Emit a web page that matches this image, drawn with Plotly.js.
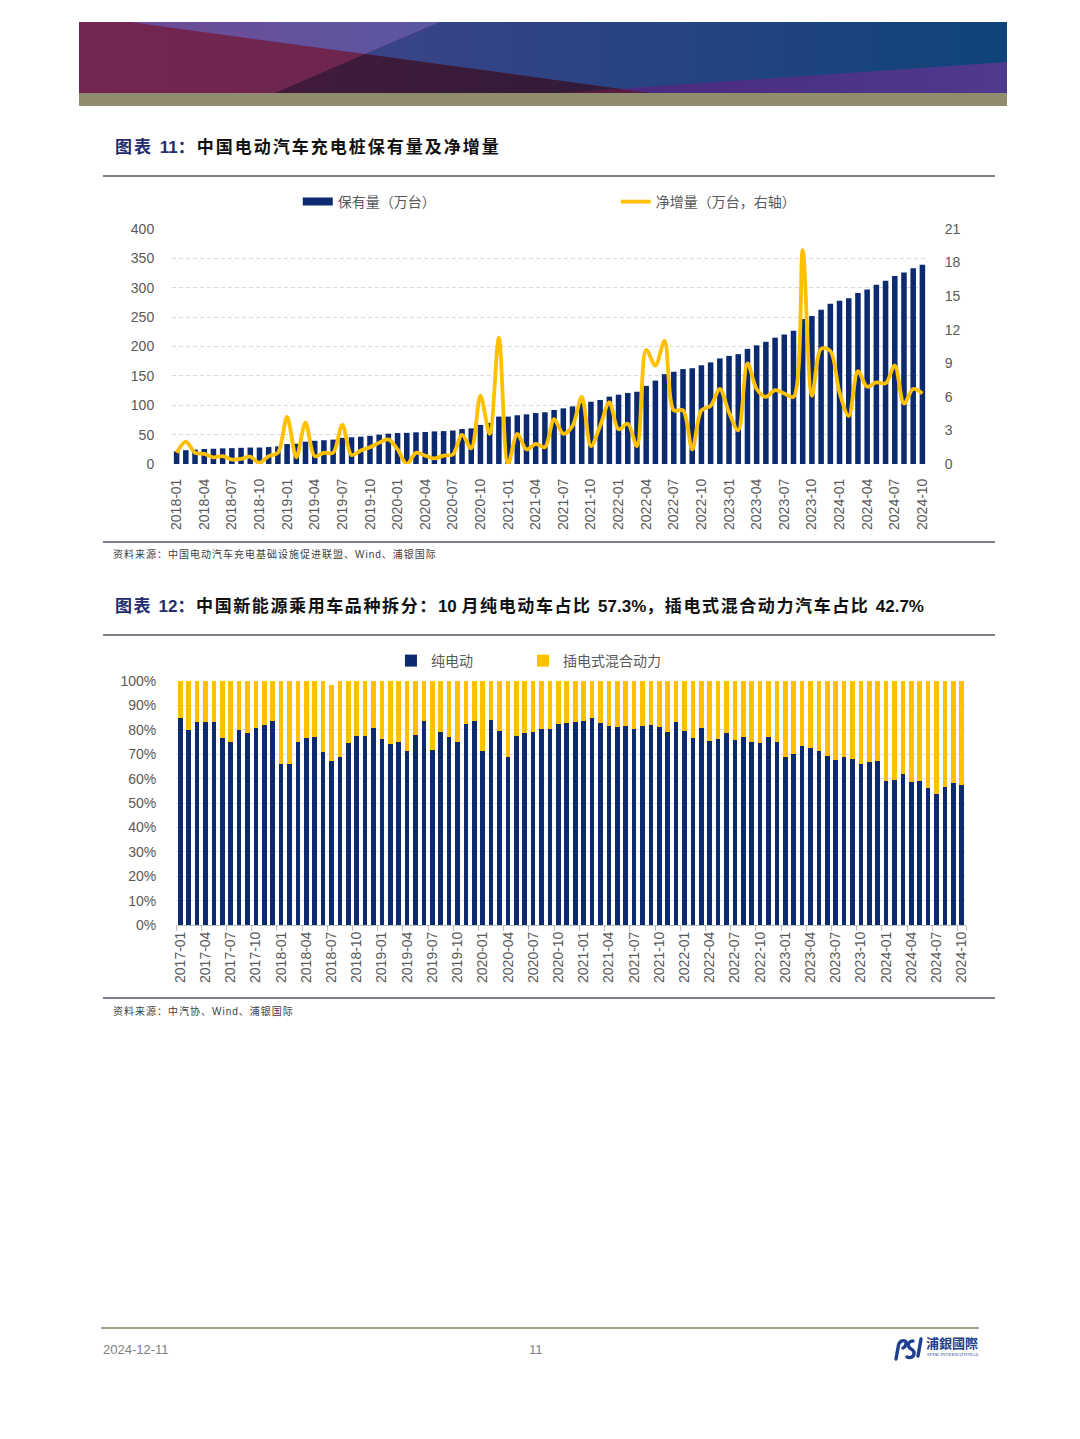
<!DOCTYPE html>
<html><head><meta charset="utf-8">
<script src="https://cdn.plot.ly/plotly-3.0.1.min.js"></script>
<style>
body{margin:0;background:#fff;}
#page{position:relative;width:1080px;height:1439px;overflow:hidden;background:#fff;}
.abs{position:absolute;}
.ttl{font-family:"Liberation Sans","Noto Sans CJK SC",sans-serif;font-weight:700;font-size:17px;color:#111;letter-spacing:1.6px;white-space:nowrap;}
.ttl .n{color:#232c6e;}
.ttl .l{letter-spacing:0;}
.rule{background:#7f7f8c;height:1.5px;}
.src{font-family:"Liberation Sans","Noto Sans CJK SC",sans-serif;font-size:10px;color:#404040;letter-spacing:1px;white-space:nowrap;}
</style></head><body><div id="page">

<svg class="abs" style="left:79px;top:22px" width="928" height="84" viewBox="0 0 928 84">
<defs>
<linearGradient id="gm" x1="0" x2="1" y1="0" y2="0"><stop offset="0" stop-color="#732650"/><stop offset="1" stop-color="#5e2446"/></linearGradient>
<linearGradient id="gp" x1="0" x2="1" y1="0" y2="0"><stop offset="0" stop-color="#6e4a95"/><stop offset="1" stop-color="#5a58a2"/></linearGradient>
<linearGradient id="gb" x1="0" x2="1" y1="0" y2="0"><stop offset="0" stop-color="#3a4488"/><stop offset="1" stop-color="#0f4379"/></linearGradient>
<linearGradient id="gd" x1="0" x2="1" y1="0" y2="0"><stop offset="0" stop-color="#421a3a"/><stop offset="1" stop-color="#2f1c3b"/></linearGradient>
<linearGradient id="gv" x1="0" x2="1" y1="0" y2="0"><stop offset="0" stop-color="#4a2a80"/><stop offset="1" stop-color="#4e3a8e"/></linearGradient>
</defs>
<rect x="0" y="0" width="928" height="71" fill="url(#gm)"/>
<polygon points="51,0 361,0 286,32" fill="url(#gp)"/>
<polygon points="361,0 928,0 928,71 571,71 286,32" fill="url(#gb)"/>
<polygon points="286,32 196,71 571,71" fill="url(#gd)"/>
<polygon points="540,66.8 928,40 928,71 571,71" fill="url(#gv)"/>
<polygon points="479,71 540,66.8 571,71" fill="#581c42"/>
<rect x="0" y="71" width="928" height="13" fill="#8f8d6e"/>
</svg>

<div class="abs ttl" style="left:115px;top:133px;letter-spacing:2px"><span class="n">图表 <span class="l">11</span>：</span>中国电动汽车充电桩保有量及净增量</div>
<div class="abs rule" style="left:103px;top:175px;width:892px"></div>
<div id="c1" class="abs" style="left:0;top:180px;width:1080px;height:370px"></div>
<div class="abs rule" style="left:103px;top:541px;width:892px"></div>
<div class="abs src" style="left:113px;top:546px">资料来源：中国电动汽车充电基础设施促进联盟、Wind、浦银国际</div>

<div class="abs ttl" style="left:115px;top:592px"><span class="n">图表 <span class="l">12</span>：</span>中国新能源乘用车品种拆分：<span class="l">10 </span>月纯电动车占比 <span class="l">57.3%</span>，插电式混合动力汽车占比 <span class="l">42.7%</span></div>
<div class="abs rule" style="left:103px;top:634px;width:892px"></div>
<div id="c2" class="abs" style="left:0;top:640px;width:1080px;height:360px"></div>
<div class="abs rule" style="left:103px;top:997px;width:892px"></div>
<div class="abs src" style="left:113px;top:1003px">资料来源：中汽协、Wind、浦银国际</div>

<div class="abs" style="left:101px;top:1327px;width:878px;height:1.5px;background:#a3a184"></div>
<div class="abs" style="left:103px;top:1342px;font-family:'Liberation Sans',sans-serif;font-size:13px;color:#808080">2024-12-11</div>
<div class="abs" style="left:529px;top:1342px;font-family:'Liberation Sans',sans-serif;font-size:13px;color:#808080">11</div>
<svg class="abs" style="left:892px;top:1336px" width="32" height="26" viewBox="0 0 32 26">
<path d="M4,23 L6.5,9 C7.5,5 11,4 13,5 C15,6 14,11 11,12" fill="none" stroke="#1d3f8e" stroke-width="3.4" stroke-linecap="round"/>
<path d="M21,5 C17,5 15,8 17,11 C19,14 23,14 22,18 C21,22 17,22 15,21" fill="none" stroke="#1d3f8e" stroke-width="3.4" stroke-linecap="round"/>
<path d="M29,3 L26,20" fill="none" stroke="#1d3f8e" stroke-width="3.4" stroke-linecap="round"/>
</svg>
<div class="abs" style="left:926px;top:1335px;font-family:'Noto Sans CJK TC',sans-serif;font-weight:700;font-size:13px;color:#1d3f8e;line-height:15px;letter-spacing:0px">浦銀國際</div>
<div class="abs" style="left:927px;top:1352px;font-family:'Liberation Serif',serif;font-size:4.5px;color:#1d3f8e;letter-spacing:0.2px">SPDB INTERNATIONAL</div>

</div>
<script>
// ---- data ----
const months2 = ["2017-01","2017-02","2017-03","2017-04","2017-05","2017-06","2017-07","2017-08","2017-09","2017-10","2017-11","2017-12",
"2018-01","2018-02","2018-03","2018-04","2018-05","2018-06","2018-07","2018-08","2018-09","2018-10","2018-11","2018-12",
"2019-01","2019-02","2019-03","2019-04","2019-05","2019-06","2019-07","2019-08","2019-09","2019-10","2019-11","2019-12",
"2020-01","2020-02","2020-03","2020-04","2020-05","2020-06","2020-07","2020-08","2020-09","2020-10","2020-11","2020-12",
"2021-01","2021-02","2021-03","2021-04","2021-05","2021-06","2021-07","2021-08","2021-09","2021-10","2021-11","2021-12",
"2022-01","2022-02","2022-03","2022-04","2022-05","2022-06","2022-07","2022-08","2022-09","2022-10","2022-11","2022-12",
"2023-01","2023-02","2023-03","2023-04","2023-05","2023-06","2023-07","2023-08","2023-09","2023-10","2023-11","2023-12",
"2024-01","2024-02","2024-03","2024-04","2024-05","2024-06","2024-07","2024-08","2024-09","2024-10"];
const months1 = months2.slice(12); // 2018-01 .. 2024-10

const ticks1 = ["2018-01","2018-04","2018-07","2018-10","2019-01","2019-04","2019-07","2019-10","2020-01","2020-04","2020-07","2020-10",
"2021-01","2021-04","2021-07","2021-10","2022-01","2022-04","2022-07","2022-10","2023-01","2023-04","2023-07","2023-10",
"2024-01","2024-04","2024-07","2024-10"];
const ticks2 = ["2017-01","2017-04","2017-07","2017-10"].concat(ticks1);

// 保有量（万台）
const stock = [21.5,23.5,24.5,25.5,26,26.6,27,27.5,28,28,28.8,30,
34,34.5,38,39.5,40.5,41.5,44.5,45.5,46.5,48,50,51.6,
52.7,53,54,54.5,55.5,56,57,59.5,60.7,66.5,70,80.7,
80.7,83,84.5,86.7,88,92,94.7,98,104,106,109,114.7,
118,121,123,133,142,153,157,161.6,163,168,173,179.7,
184,187,196,202,208,215,220.5,227,246.6,252,262.5,272.6,
278,282,291,297,305,312,320,326,333,339];
// 净增量（万台，右轴）
const netAdd = [1.0,2.0,1.0,0.9,0.6,0.7,0.4,0.45,0.65,0.1,0.7,1.0,
4.2,0.6,3.7,0.7,1.0,1.0,3.5,0.8,1.2,1.5,1.9,2.2,
1.3,0.0,1.0,0.75,0.5,0.75,0.85,2.6,1.4,6.1,2.7,11.3,
0.0,2.7,1.3,1.8,1.5,4.0,2.7,3.4,6.0,1.6,3.4,5.5,
3.1,3.6,1.6,10.2,8.8,11.0,4.8,4.8,1.3,4.8,5.2,6.7,
4.6,3.0,9.0,6.7,6.0,6.6,6.3,6.0,19.1,6.1,10.3,10.1,
6.4,4.3,8.3,6.9,7.3,7.2,8.8,5.4,6.7,6.3];

// 纯电动 (%)
const bev = [84.7,79.9,83.1,83.3,83.3,76.5,74.9,79.9,78.5,80.6,82.0,83.6,
66.0,65.8,75.1,76.8,77.2,71.0,67.3,68.7,74.7,77.6,77.6,80.9,
76.2,74.2,75.1,71.4,77.9,83.7,71.7,79.2,77.2,75.1,82.2,83.7,
71.4,84.0,79.5,68.7,77.6,78.5,79.2,80.2,80.3,82.4,82.9,83.3,
83.6,84.7,82.9,81.7,81.0,81.7,80.3,81.7,82.0,81.3,79.2,83.3,
79.6,76.5,80.9,75.5,76.4,78.8,75.8,77.2,75.1,74.7,76.9,74.9,
69.0,69.9,73.4,72.4,71.4,69.4,67.6,68.7,67.9,65.8,66.8,67.3,
59.1,59.4,61.7,58.7,59.0,56.3,53.7,56.7,58.3,57.3];
// 插电式混合动力 (%)
const phev = [15.3,20.1,16.9,16.7,16.7,23.5,25.1,20.1,21.5,19.4,18.0,16.4,
34.0,34.2,24.9,23.2,22.8,29.0,31.1,31.3,25.3,22.4,22.4,19.1,
23.8,25.8,24.9,28.6,22.1,16.3,28.3,20.8,22.8,24.9,17.8,16.3,
28.6,16.0,20.5,31.3,22.4,21.5,20.8,19.8,19.7,17.6,17.1,16.7,
16.4,15.3,17.1,18.3,19.0,18.3,19.7,18.3,18.0,18.7,20.8,16.7,
20.4,23.5,19.1,24.5,23.6,21.2,24.2,22.8,24.9,25.3,23.1,25.1,
31.0,30.1,26.6,27.6,28.6,30.6,32.4,31.3,32.1,34.2,33.2,32.7,
40.9,40.6,38.3,41.3,41.0,43.7,46.3,43.3,41.7,42.7];

// ---- styles ----
const NAVY = '#0b2a6f';
const YEL = '#ffc000';
const GREY = '#595959';
const tickFont = {family:'Liberation Sans, Arial, sans-serif', size:14, color:GREY};
const legFont = {family:'Noto Sans CJK SC, sans-serif', size:14, color:GREY};
const cfg = {displayModeBar:false, staticPlot:true};

Plotly.newPlot('c1', [
  {type:'bar', x:months1, y:stock, name:'保有量（万台）', marker:{color:NAVY}, showlegend:false},
  {type:'scatter', mode:'lines', x:[months1[0]], y:[null], name:'保有量（万台）', line:{color:NAVY, width:8}, legendwidth:273},
  {type:'scatter', mode:'lines', x:months1, y:netAdd, yaxis:'y2', name:'净增量（万台，右轴）',
   line:{color:YEL, width:3.8, shape:'spline', smoothing:0.9}, legendwidth:160}
], {
  width:1080, height:370,
  margin:{l:172, r:153, t:49, b:86},
  paper_bgcolor:'rgba(0,0,0,0)', plot_bgcolor:'rgba(0,0,0,0)',
  bargap:0.4,
  showlegend:true,
  legend:{orientation:'h', xref:'container', yref:'container', x:0.2757, y:0.9405, xanchor:'left', yanchor:'middle',
          font:legFont, itemclick:false},
  xaxis:{type:'category', categoryorder:'array', categoryarray:months1, tickmode:'array', tickvals:ticks1, ticktext:ticks1,
         tickangle:-90, tickfont:tickFont, showgrid:false, zeroline:false, showline:false,
         ticks:'outside', ticklen:8, tickcolor:'rgba(0,0,0,0)'},
  yaxis:{range:[0,400], dtick:50, tick0:0, tickfont:tickFont, gridcolor:'#d9d9d9', griddash:'4px,3px', gridwidth:1,
         zeroline:false, showline:false, ticks:'outside', ticklen:14, tickcolor:'rgba(0,0,0,0)'},
  yaxis2:{range:[0,21], dtick:3, tick0:0, overlaying:'y', side:'right', tickfont:tickFont, showgrid:false,
          zeroline:false, showline:false, ticks:'outside', ticklen:14, tickcolor:'rgba(0,0,0,0)'}
}, cfg);

Plotly.newPlot('c2', [
  {type:'bar', x:months2, y:bev, name:'纯电动', marker:{color:NAVY}, legendwidth:87},
  {type:'bar', x:months2, y:phev, name:'插电式混合动力', marker:{color:YEL}, legendwidth:120}
], {
  width:1080, height:360,
  margin:{l:176, r:114, t:41, b:75},
  paper_bgcolor:'rgba(0,0,0,0)', plot_bgcolor:'rgba(0,0,0,0)',
  barmode:'stack', bargap:0.45,
  showlegend:true,
  legend:{orientation:'h', xref:'container', yref:'container', x:0.362, y:0.9417, xanchor:'left', yanchor:'middle',
          font:legFont, traceorder:'normal', itemclick:false},
  xaxis:{type:'category', categoryorder:'array', categoryarray:months2, tickmode:'array', tickvals:ticks2, ticktext:ticks2,
         tickangle:-90, tickfont:{family:'Liberation Sans, Arial, sans-serif', size:14, color:GREY},
         showgrid:false, zeroline:false, showline:true, linecolor:'#bfbfbf', linewidth:1,
         ticks:'outside', tickson:'boundaries', ticklen:5, tickcolor:'#bfbfbf'},
  yaxis:{range:[0,100], dtick:10, tick0:0, ticksuffix:'%', tickfont:tickFont, gridcolor:'#e3e3e3', gridwidth:1,
         zeroline:false, showline:false, ticks:'outside', ticklen:16, tickcolor:'rgba(0,0,0,0)'}
}, cfg);
</script>
</body></html>
